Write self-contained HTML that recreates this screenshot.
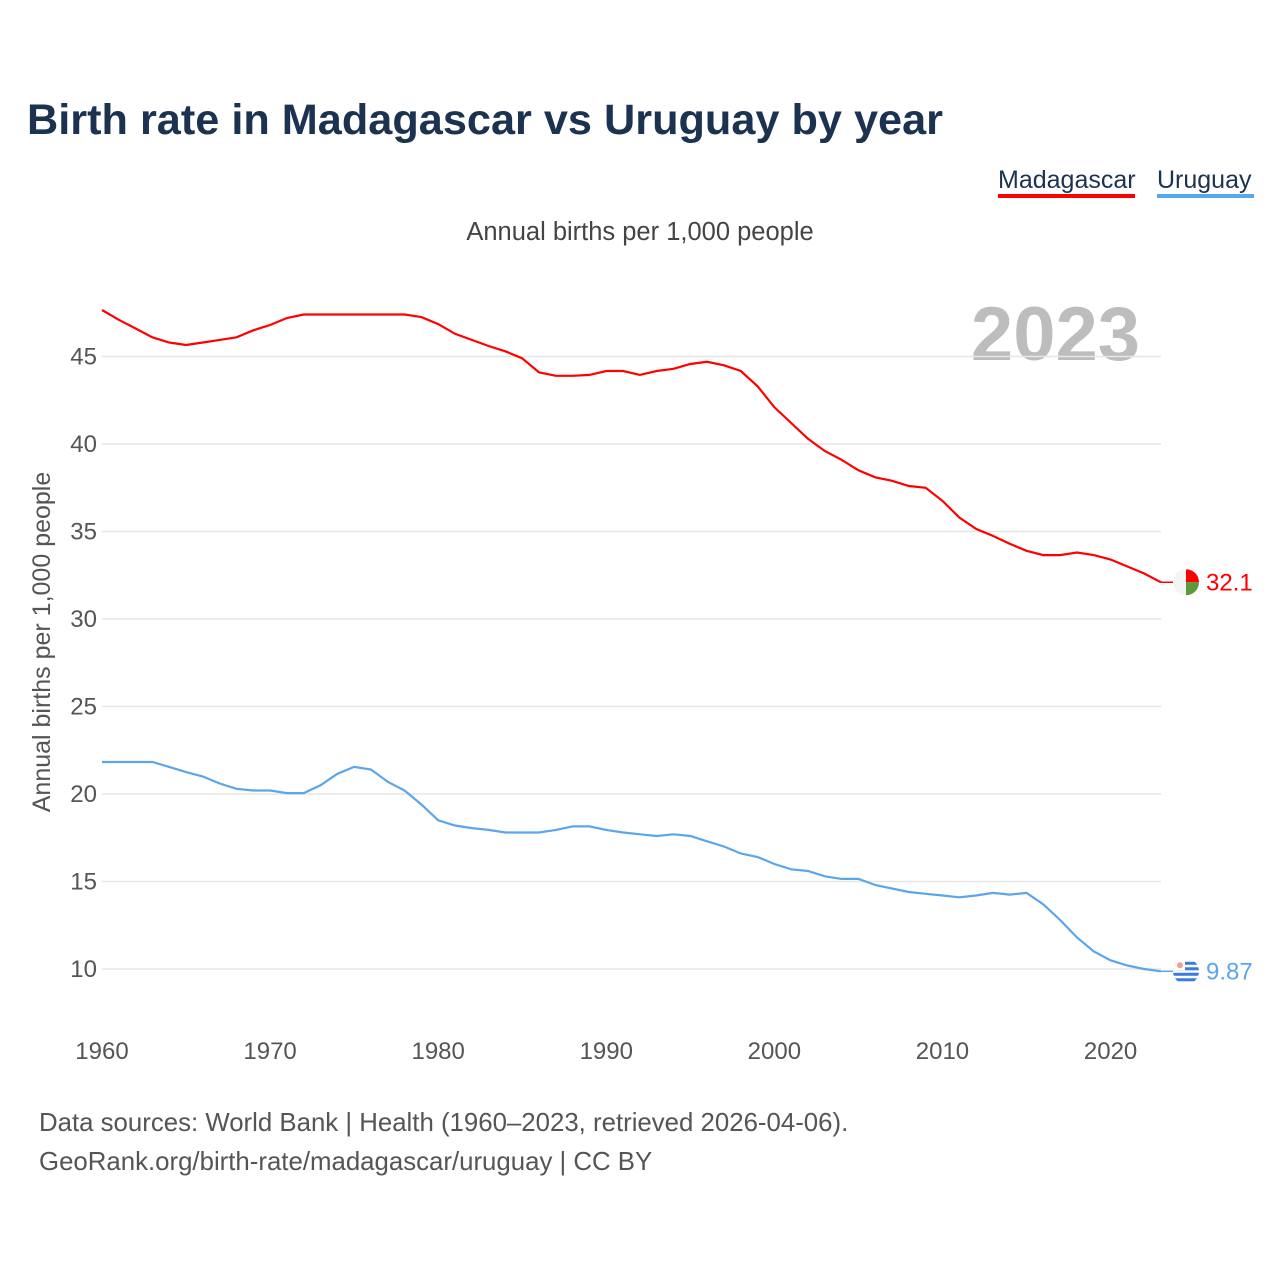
<!DOCTYPE html>
<html><head><meta charset="utf-8"><style>
body{margin:0;background:#fff;font-family:"Liberation Sans",sans-serif;}
svg text{font-family:"Liberation Sans",sans-serif;}
</style></head><body>
<svg id="chart" width="1280" height="1280" xmlns="http://www.w3.org/2000/svg">
<defs>
<clipPath id="clipM"><circle cx="1186" cy="582" r="13"/></clipPath>
<clipPath id="clipU"><circle cx="1186" cy="971" r="13"/></clipPath>
</defs>
<rect width="1280" height="1280" fill="#fff"/>
<text x="27" y="134" font-size="43" font-weight="bold" fill="#1b3250" textLength="916" lengthAdjust="spacingAndGlyphs">Birth rate in Madagascar vs Uruguay by year</text>
<g><text x="998" y="188" font-size="25" fill="#1b3250">Madagascar</text><rect x="998" y="194" width="137" height="4" fill="#ff0000"/></g>
<g><text x="1157" y="188" font-size="25" fill="#1b3250">Uruguay</text><rect x="1157" y="194" width="97" height="4" fill="#5aa6ec"/></g>
<text x="640" y="240" font-size="25.5" fill="#444" text-anchor="middle">Annual births per 1,000 people</text>
<text x="1140" y="360" font-size="76" font-weight="bold" fill="#bdbdbd" text-anchor="end">2023</text>
<text transform="translate(50,642) rotate(-90)" font-size="25" fill="#555" text-anchor="middle">Annual births per 1,000 people</text>
<g id="grid"></g><g id="series"></g>
<text x="39" y="1131" font-size="25.8" fill="#555">Data sources: World Bank | Health (1960–2023, retrieved 2026-04-06).</text>
<text x="39" y="1170" font-size="25.8" fill="#555">GeoRank.org/birth-rate/madagascar/uruguay | CC BY</text>
</svg>
<script>
const years=[];for(let y=1960;y<=2023;y++)years.push(y);
const madagascar=[47.66,47.1,46.6,46.1,45.8,45.66,45.8,45.95,46.1,46.5,46.8,47.2,47.4,47.4,47.4,47.4,47.4,47.4,47.4,47.25,46.85,46.3,45.95,45.6,45.3,44.9,44.1,43.9,43.9,43.95,44.17,44.17,43.95,44.17,44.3,44.57,44.7,44.5,44.17,43.3,42.1,41.2,40.3,39.6,39.1,38.5,38.1,37.9,37.6,37.5,36.75,35.8,35.15,34.75,34.3,33.9,33.65,33.65,33.8,33.65,33.4,33.0,32.6,32.1];
const uruguay=[21.83,21.83,21.83,21.83,21.55,21.25,21.0,20.6,20.3,20.2,20.2,20.05,20.05,20.5,21.15,21.55,21.4,20.7,20.2,19.4,18.5,18.2,18.05,17.95,17.8,17.8,17.8,17.95,18.15,18.15,17.95,17.8,17.7,17.6,17.7,17.6,17.3,17.0,16.6,16.4,16.0,15.7,15.6,15.3,15.15,15.15,14.8,14.6,14.4,14.3,14.2,14.1,14.2,14.35,14.25,14.35,13.7,12.8,11.8,11.0,10.5,10.2,10.0,9.87];
const yTicks=[10,15,20,25,30,35,40,45];
const xTicks=[1960,1970,1980,1990,2000,2010,2020];
const endLabels=["32.1","9.87"];
const NS="http://www.w3.org/2000/svg";
const X=y=>102+(y-1960)*(1161-102)/63;
const Y=v=>969-(v-10)*17.5;
function mk(t,a,p){const e=document.createElementNS(NS,t);for(const k in a)e.setAttribute(k,a[k]);p.appendChild(e);return e;}
const grid=document.getElementById('grid'),ser=document.getElementById('series');
yTicks.forEach(v=>{
 const l=mk('line',{x1:102,x2:1161,y1:Y(v),y2:Y(v),stroke:'#e6e6e6','stroke-width':1.5},grid);
 
 
 const t=mk('text',{x:97,y:Y(v)+8,'font-size':24,fill:'#555','text-anchor':'end'},grid);t.textContent=v;
 
 
});
xTicks.forEach(v=>{
 const t=mk('text',{x:X(v),y:1059,'font-size':24,fill:'#555','text-anchor':'middle'},grid);t.textContent=v;
 
 
});
function line(data,color,name){
 const d=data.map((v,i)=>(i?'L':'M')+X(years[i]).toFixed(1)+','+Y(v).toFixed(1)).join('');
 const p=mk('path',{d:d,fill:'none',stroke:color,'stroke-width':2.2},ser);
 
 
}
line(madagascar,'#ff0000','madagascar-line');
line(uruguay,'#5aa6ec','uruguay-line');
const mv=madagascar[madagascar.length-1],uv=uruguay[uruguay.length-1];
const cx=1186;
const mY=Y(mv),uY=Y(uv);
document.querySelector('#clipM circle').setAttribute('cy',mY);
document.querySelector('#clipU circle').setAttribute('cy',uY);
let g=mk('g',{},ser);


mk('line',{x1:1161,x2:1173,y1:mY,y2:mY,stroke:'#ff0000','stroke-width':1.5},g);
let gc=mk('g',{'clip-path':'url(#clipM)'},g);
mk('rect',{x:cx-13,y:mY-13,width:26,height:26,fill:'#f4f4f4'},gc);
mk('rect',{x:cx,y:mY-13,width:13,height:13,fill:'#ff0000'},gc);
mk('rect',{x:cx,y:mY,width:13,height:13,fill:'#5b9a3a'},gc);
let t=mk('text',{x:1206,y:mY+8,'font-size':24,fill:'#ff0000'},ser);t.textContent=endLabels[0];


g=mk('g',{},ser);


mk('line',{x1:1161,x2:1173,y1:uY,y2:uY,stroke:'#5aa6ec','stroke-width':1.5},g);
gc=mk('g',{'clip-path':'url(#clipU)'},g);
mk('rect',{x:cx-13,y:uY-13,width:26,height:26,fill:'#fff'},gc);
[-8,-2.5,3,8.5].forEach(o=>mk('rect',{x:cx-13,y:uY+o-1.5,width:26,height:3,fill:'#3a7be0'},gc));
mk('rect',{x:cx-13,y:uY-13,width:12,height:12,fill:'#fff'},gc);
mk('circle',{cx:cx-6,cy:uY-6,r:3,fill:'#f5a08a'},gc);
t=mk('text',{x:1206,y:uY+8,'font-size':24,fill:'#5aa6ec'},ser);t.textContent=endLabels[1];


</script>
</body></html>
